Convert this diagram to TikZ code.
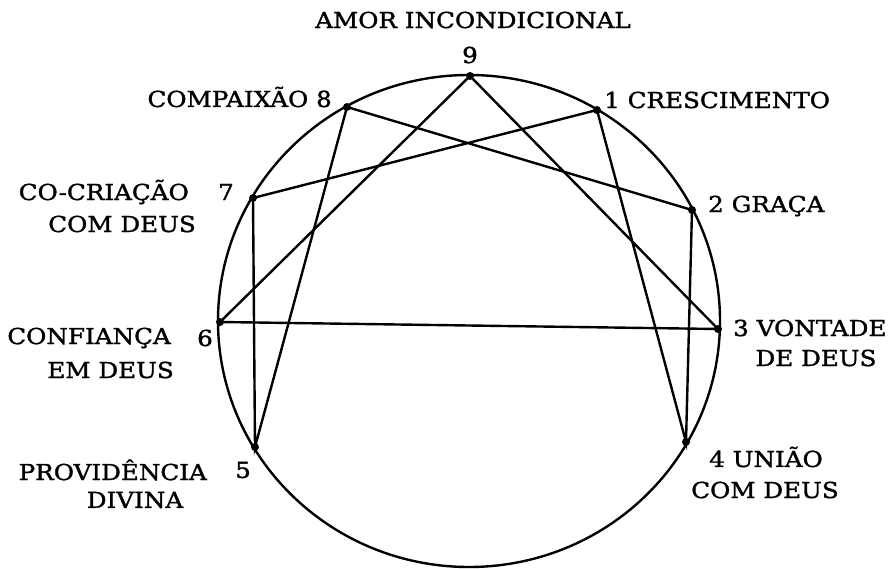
\documentclass[tikz,border=0pt]{standalone}
\usepackage{fontspec}
\setmainfont[FakeStretch=1.12,FakeBold=1.5]{DejaVu Serif}
\begin{document}
\begin{tikzpicture}[x=1pt,y=-1pt,
    line width=2.4pt,
    lbl/.style={font=\fontsize{22}{22}\selectfont,inner sep=0pt},
    pt/.style={circle,fill,inner sep=0pt,minimum size=8pt}]
    \useasboundingbox (0,0) rectangle (893,569);
    \draw (469,321) ellipse [x radius=251, y radius=246];
    % points on the circle
    \node[pt] (p9) at (470,76) {};
    \node[pt] (p1) at (597,110) {};
    \node[pt] (p2) at (692,210) {};
    \node[pt] (p3) at (718,329) {};
    \node[pt] (p4) at (686,442) {};
    \node[pt] (p5) at (255,447) {};
    \node[pt] (p6) at (220,322) {};
    \node[pt] (p7) at (253,198) {};
    \node[pt] (p8) at (347,107) {};
    % triangle
    \draw (p9.center)--(p3.center)--(p6.center)--cycle;
    % hexad
    \draw (p1.center)--(p4.center)--(p2.center)--(p8.center)--(p5.center)--(p7.center)--cycle;
    % labels
    \node[lbl] (t9) at (473,20) {AMOR INCONDICIONAL};
    \node[lbl] (n9) at (470,55) {9};
    \node[lbl,anchor=east] (t8) at (333,97) {COMPAIXÃO 8};
    \node[lbl,anchor=west] (t1) at (603,100) {1 CRESCIMENTO};
    \node[lbl,anchor=west] (t2) at (707,206) {2 GRAÇA};
    \node[lbl,anchor=east] (t7) at (190,192) {CO-CRIAÇÃO};
    \node[lbl] (n7) at (226,192) {7};
    \node[lbl,anchor=east] (t7b) at (197,224) {COM DEUS};
    \node[lbl,anchor=east] (t6) at (172,338) {CONFIANÇA};
    \node[lbl] (n6) at (205,338) {6};
    \node[lbl,anchor=east] (t6b) at (175,370) {EM DEUS};
    \node[lbl,anchor=west] (t3) at (732,328) {3 VONTADE};
    \node[lbl] (t3b) at (816,358) {DE DEUS};
    \node[lbl] (t4) at (766,457) {4 UNIÃO};
    \node[lbl] (t4b) at (765,490) {COM DEUS};
    \node[lbl,anchor=east] (t5) at (208,470) {PROVIDÊNCIA};
    \node[lbl] (n5) at (243,470) {5};
    \node[lbl] (t5b) at (135,500) {DIVINA};
\end{tikzpicture}
\end{document}
